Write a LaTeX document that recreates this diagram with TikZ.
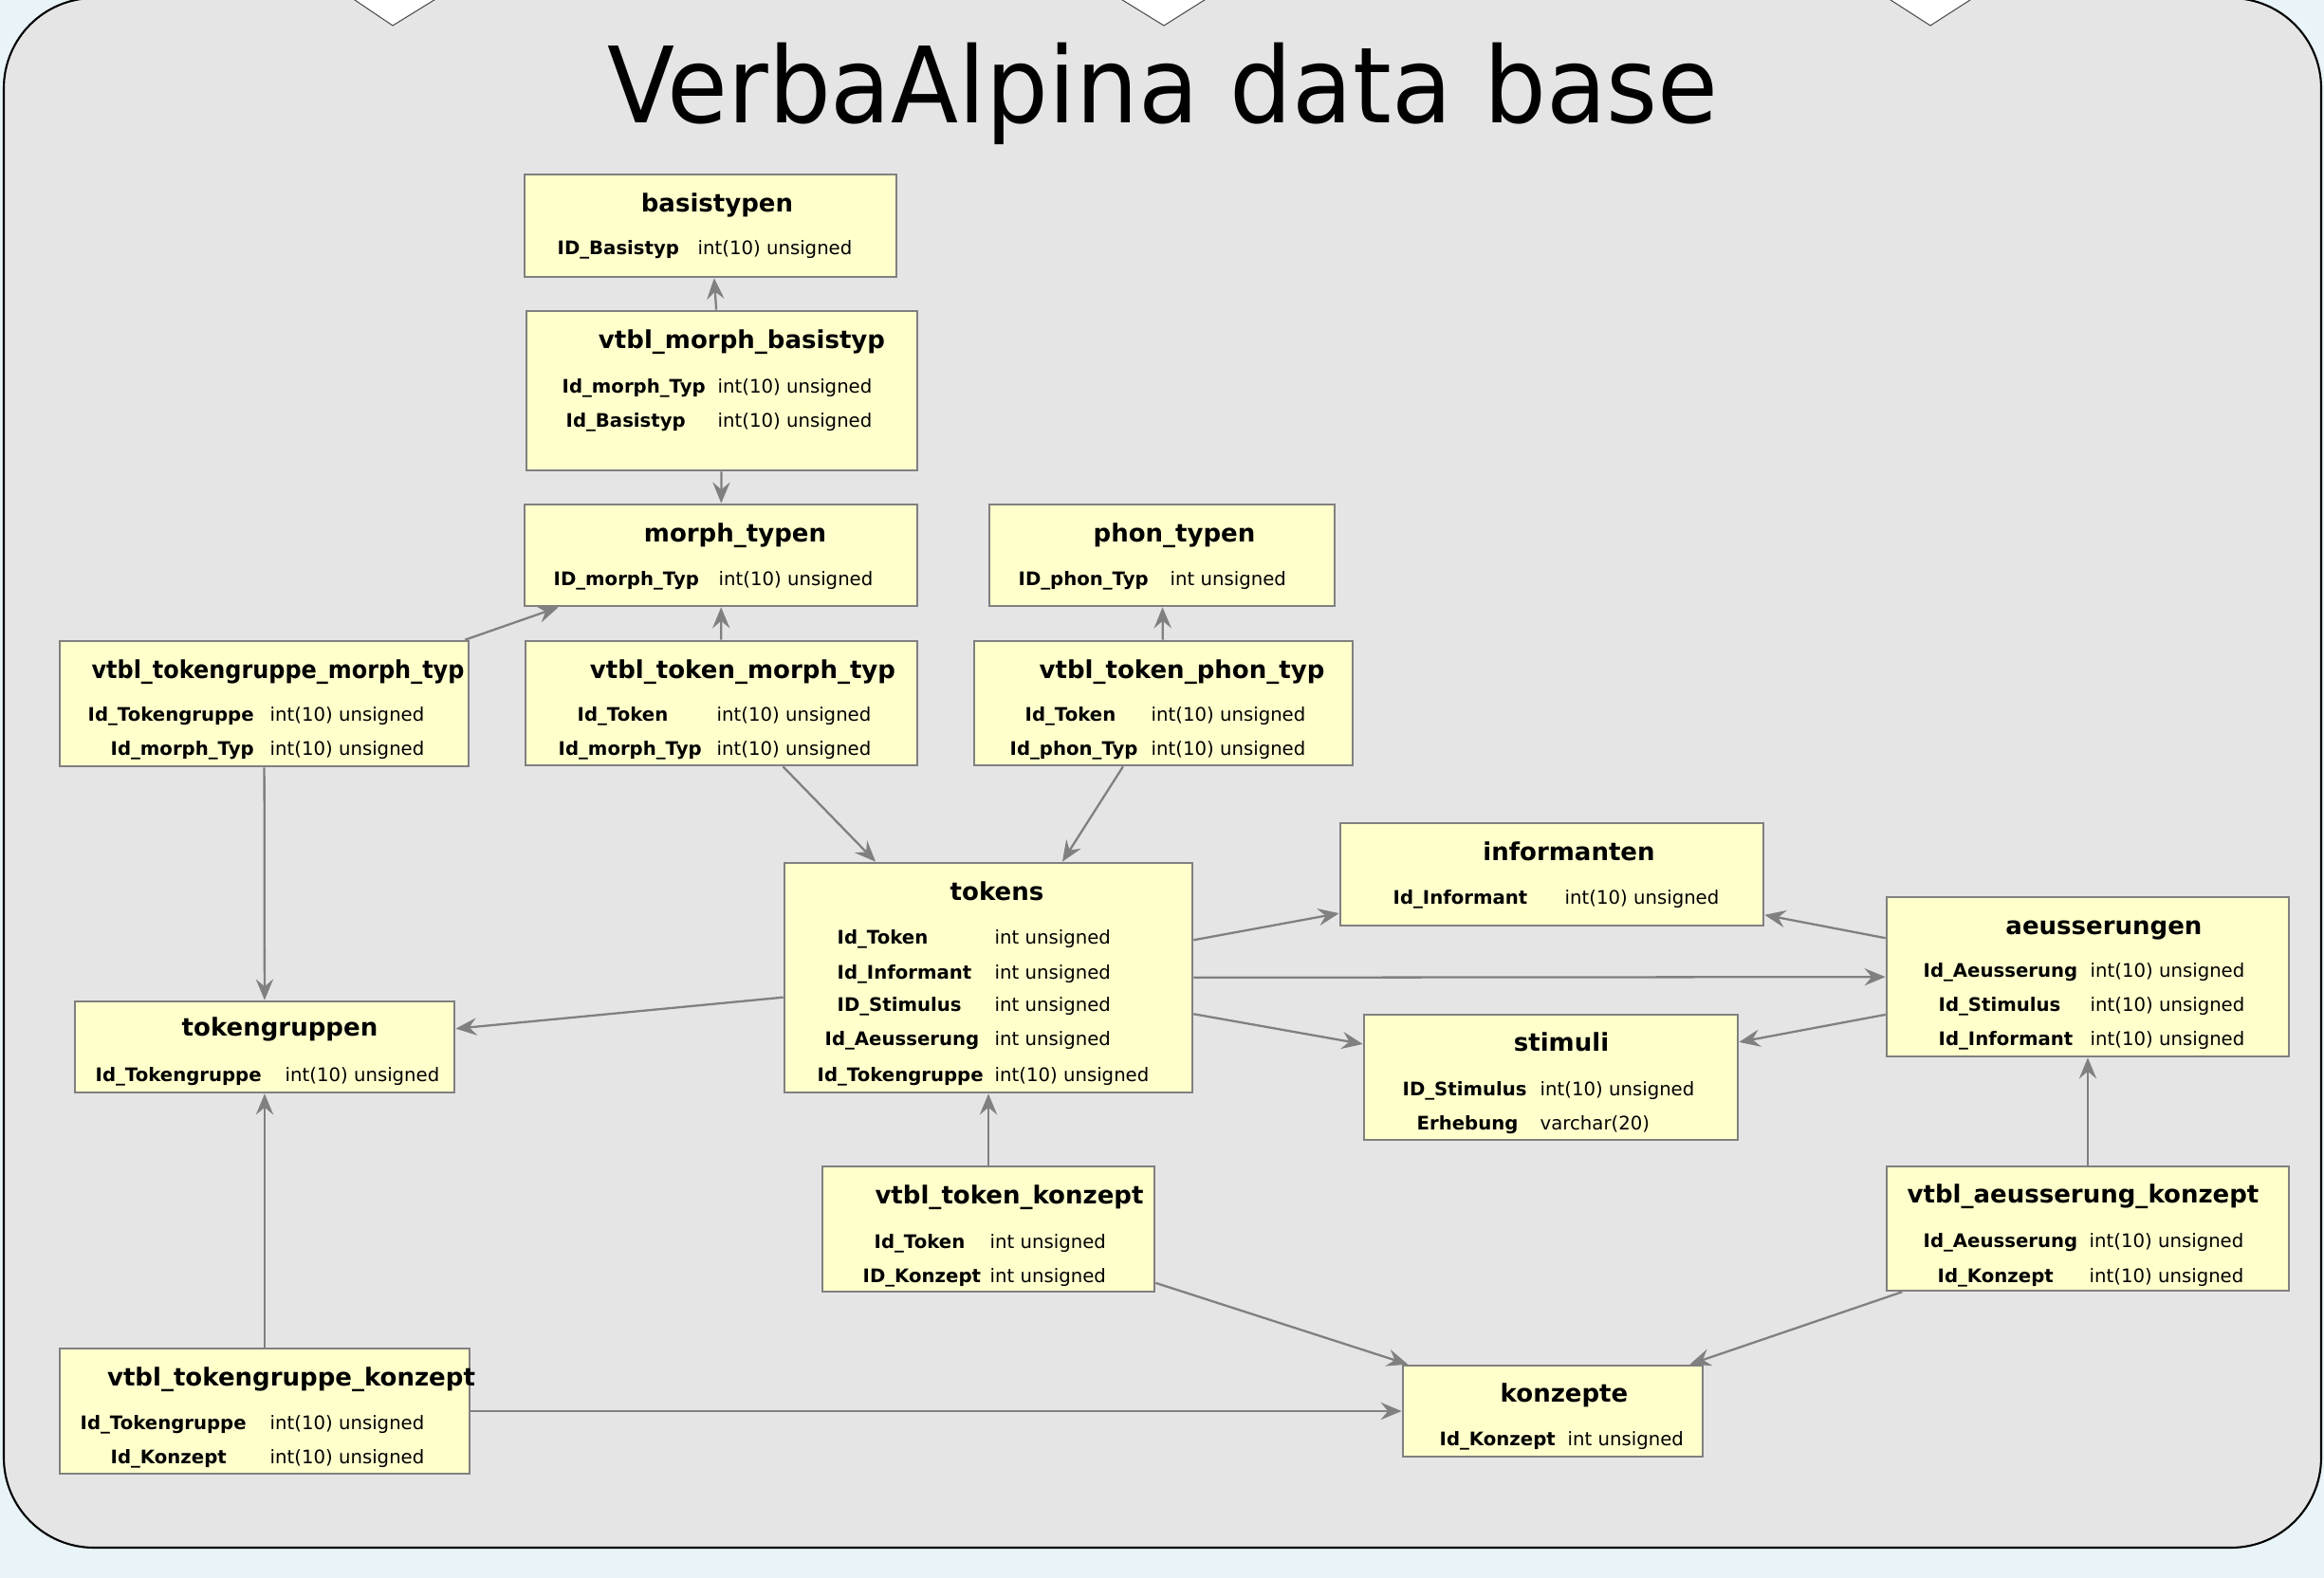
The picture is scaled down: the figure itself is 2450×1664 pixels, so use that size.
\documentclass[tikz,border=0pt]{standalone}
\usepackage{fontspec}
\setmainfont{DejaVu Sans}
\usepackage{graphicx}
\usetikzlibrary{arrows.meta,calc,fit}
\definecolor{pagebg}{RGB}{232,244,247}
\definecolor{framebg}{RGB}{229,229,229}
\definecolor{tblfill}{RGB}{255,255,204}
\definecolor{tblline}{RGB}{128,128,128}
\tikzset{
	tbl/.style={draw=tblline, fill=tblfill, line width=0.75pt, inner sep=0pt},
	ttl/.style={anchor=base, inner sep=0pt, font=\fontsize{7.4}{8.4}\selectfont\bfseries},
	fname/.style={anchor=base west, inner sep=0pt, font=\fontsize{5.6}{7}\selectfont\bfseries},
	ftype/.style={anchor=base west, inner sep=0pt, font=\fontsize{5.6}{7}\selectfont},
	rel/.style={draw=tblline, line width=0.65pt, -{Stealth[length=6.3pt,width=5.2pt,inset=2.2pt]}}
}
\def\tbl(#1)(#2)(#3)(#4)#5{\node[tbl, fit={(#2) (#3)}] (#1) {}; \node[ttl] (#1-ttl) at (#4) {#5};}
\def\fld(#1)(#2,#3,#4)#5#6{\node[fname] (#1-n) at (#2,#4) {#5}; \node[ftype] (#1-t) at (#3,#4) {#6};}

\begin{document}
\begin{tikzpicture}[x=0.01cm, y=-0.01cm]
	\useasboundingbox (0,0) rectangle (2450,1664);
	\clip (0,0) rectangle (2450,1664);
	\fill[pagebg] (0,0) rectangle (2450,1664);
	\draw[fill=framebg, line width=0.6pt, rounded corners=0.95cm] (4,-2) rectangle (2447,1632);
	\draw[fill=white, draw=black!70, line width=0.3pt] (371,-2) -- (414,27) -- (461,-2);
	\draw[fill=white, draw=black!70, line width=0.3pt] (1180,-2) -- (1227,27) -- (1273,-2);
	\draw[fill=white, draw=black!70, line width=0.3pt] (1990,-2) -- (2035,27) -- (2080,-2);
	
	\node[anchor=base, inner sep=0pt, font=\fontsize{31.6}{36}\selectfont] (title) at (1226,130) {\scalebox{0.935}[1]{VerbaAlpina data base}};
	
	\tbl(bt)(553,184)(945,292)(756,224){basistypen}
	\fld(bt1)(587,735,269){ID\_Basistyp}{int(10) unsigned}
	
	\tbl(vmb)(555,328)(967,496)(782,368){vtbl\_morph\_basistyp}
	\fld(vmb1)(592,756,415){Id\_morph\_Typ}{int(10) unsigned}
	\fld(vmb2)(596,756,451){Id\_Basistyp}{int(10) unsigned}
	
	\tbl(mt)(553,532)(967,639)(775,572){morph\_typen}
	\fld(mt1)(583,757,618){ID\_morph\_Typ}{int(10) unsigned}
	
	\tbl(pt)(1043,532)(1407,639)(1238,572){phon\_typen}
	\fld(pt1)(1073,1233,618){ID\_phon\_Typ}{int unsigned}
	
	\tbl(vtgm)(63,676)(494,808)(293,716){\scalebox{0.92}[1]{vtbl\_tokengruppe\_morph\_typ}}
	\fld(vtgm1)(92,284,761){Id\_Tokengruppe}{int(10) unsigned}
	\fld(vtgm2)(116,284,797){Id\_morph\_Typ}{int(10) unsigned}
	
	\tbl(vtm)(554,676)(967,807)(783,716){vtbl\_token\_morph\_typ}
	\fld(vtm1)(608,755,761){Id\_Token}{int(10) unsigned}
	\fld(vtm2)(588,755,797){Id\_morph\_Typ}{int(10) unsigned}
	
	\tbl(vtp)(1027,676)(1426,807)(1246,716){vtbl\_token\_phon\_typ}
	\fld(vtp1)(1080,1213,761){Id\_Token}{int(10) unsigned}
	\fld(vtp2)(1064,1213,797){Id\_phon\_Typ}{int(10) unsigned}
	
	\tbl(tok)(827,910)(1257,1152)(1051,949){tokens}
	\fld(tok1)(882,1048,995){Id\_Token}{int unsigned}
	\fld(tok2)(882,1048,1032){Id\_Informant}{int unsigned}
	\fld(tok3)(882,1048,1067){ID\_Stimulus}{int unsigned}
	\fld(tok4)(869,1048,1103){Id\_Aeusserung}{int unsigned}
	\fld(tok5)(861,1048,1140){Id\_Tokengruppe}{int(10) unsigned}
	
	\tbl(inf)(1413,868)(1859,976)(1654,908){informanten}
	\fld(inf1)(1468,1649,954){Id\_Informant}{int(10) unsigned}
	
	\tbl(aeu)(1989,946)(2413,1114)(2218,985){aeusserungen}
	\fld(aeu1)(2027,2203,1031){Id\_Aeusserung}{int(10) unsigned}
	\fld(aeu2)(2043,2203,1067){Id\_Stimulus}{int(10) unsigned}
	\fld(aeu3)(2043,2203,1103){Id\_Informant}{int(10) unsigned}
	
	\tbl(sti)(1438,1070)(1832,1202)(1646,1108){stimuli}
	\fld(sti1)(1478,1623,1155){ID\_Stimulus}{int(10) unsigned}
	\fld(sti2)(1493,1623,1192){Erhebung}{varchar(20)}
	
	\tbl(tg)(79,1056)(479,1152)(295,1093){tokengruppen}
	\fld(tg1)(100,300,1140){Id\_Tokengruppe}{int(10) unsigned}
	
	\tbl(vtk)(867,1230)(1217,1362)(1064,1269){vtbl\_token\_konzept}
	\fld(vtk1)(921,1043,1316){Id\_Token}{int unsigned}
	\fld(vtk2)(909,1043,1352){ID\_Konzept}{int unsigned}
	
	\tbl(vak)(1989,1230)(2413,1361)(2196,1268){vtbl\_aeusserung\_konzept}
	\fld(vak1)(2027,2202,1315){Id\_Aeusserung}{int(10) unsigned}
	\fld(vak2)(2042,2202,1352){Id\_Konzept}{int(10) unsigned}
	
	\tbl(kon)(1479,1440)(1795,1536)(1649,1478){konzepte}
	\fld(kon1)(1517,1652,1524){Id\_Konzept}{int unsigned}
	
	\tbl(vtgk)(63,1422)(495,1554)(307,1461){vtbl\_tokengruppe\_konzept}
	\fld(vtgk1)(84,284,1507){Id\_Tokengruppe}{int(10) unsigned}
	\fld(vtgk2)(116,284,1543){Id\_Konzept}{int(10) unsigned}
	
	\draw[rel] (vmb) -- (bt);
	\draw[rel] (vmb) -- (mt);
	\draw[rel] (vtm) -- (mt);
	\draw[rel] ($(vtgm.north east)+(-5,0)$) -- ($(mt.south west)+(37,0)$);
	\draw[rel] (vtp) -- (pt);
	\draw[rel] (vtgm) -- (tg);
	\draw[rel] (vtm) -- (tok);
	\draw[rel] (vtp) -- (tok);
	\draw[rel] (tok) -- (tg);
	\draw[rel] (tok) -- (inf);
	\draw[rel] (tok) -- (aeu);
	\draw[rel] (tok) -- (sti);
	\draw[rel] (aeu) -- (inf);
	\draw[rel] (aeu) -- (sti);
	\draw[rel] (vak) -- (aeu);
	\draw[rel] (vtk) -- (tok);
	\draw[rel] (vtk) -- (kon);
	\draw[rel] (vak) -- (kon);
	\draw[rel] (vtgk) -- (kon);
	\draw[rel] (vtgk) -- (tg);
\end{tikzpicture}
\end{document}
